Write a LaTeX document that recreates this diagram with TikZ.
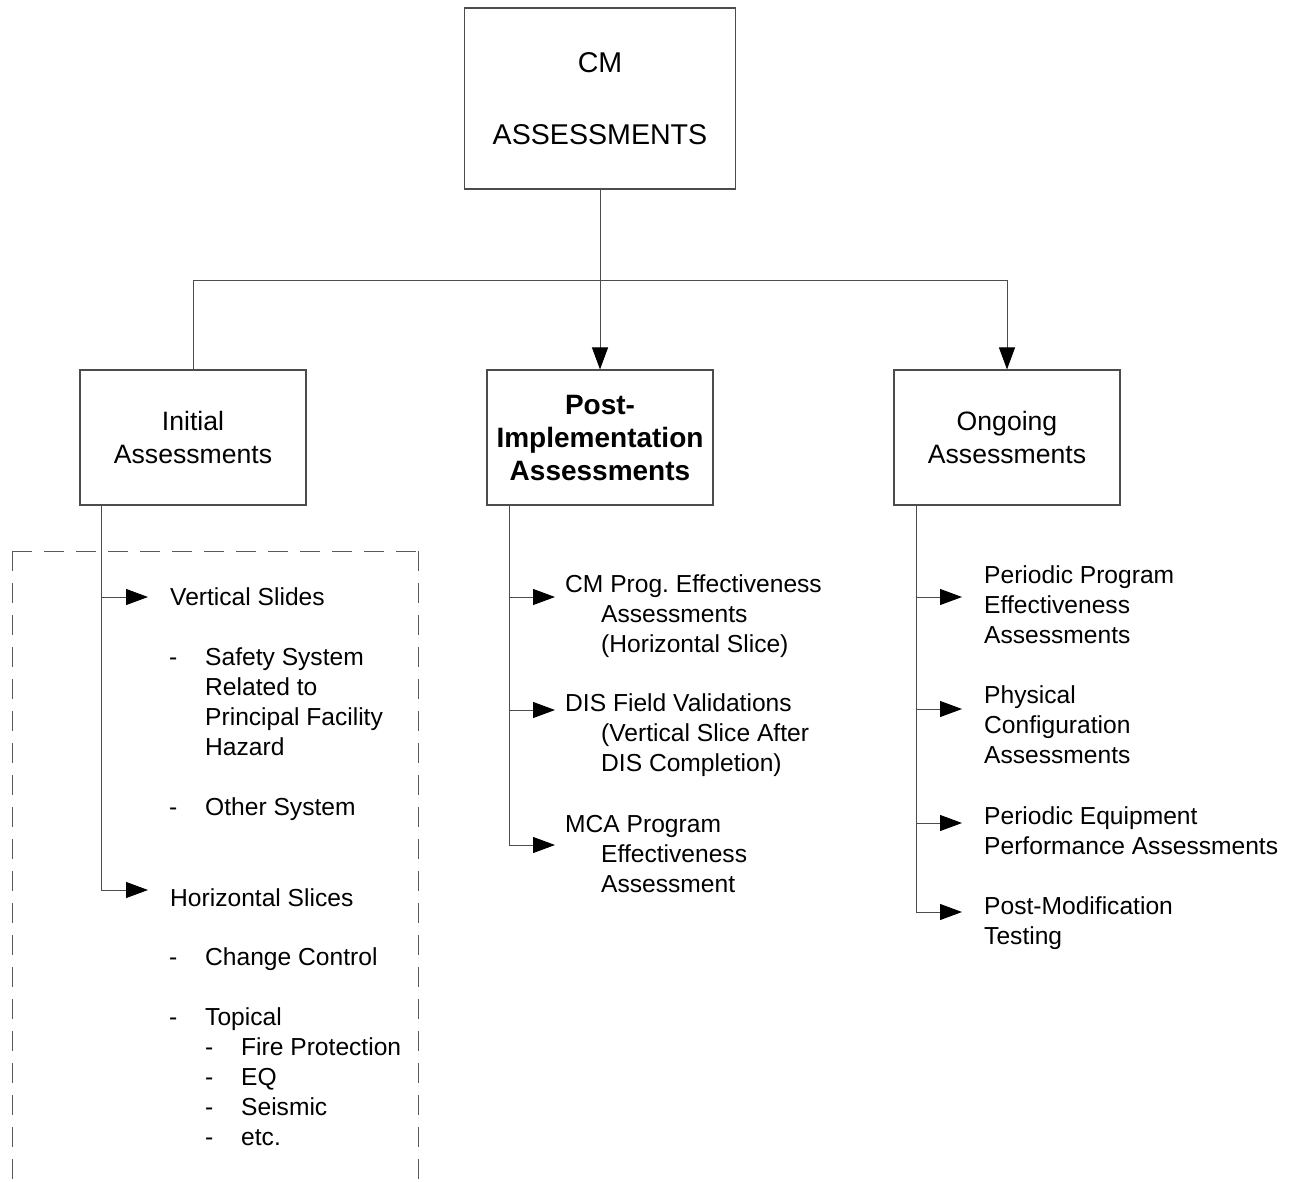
\documentclass[tikz,border=0pt]{standalone}
\usepackage{fontspec}
\setmainfont{Liberation Sans}
\usetikzlibrary{arrows.meta}
\frenchspacing

% stacked lines whose first baseline is the node baseline
\newcommand{\rows}[1]{\begin{tabular}[t]{@{}l@{}}#1\end{tabular}}
\newcommand{\dashitem}{\makebox[36pt][l]{-}}
\newcommand{\indentline}{\hspace*{36pt}}

\tikzset{
  box/.style={draw=black!70, line width=1.1pt, rectangle, inner sep=0pt,
    minimum width=226pt, minimum height=135pt, align=center,
    font=\fontsize{26.6}{33}\selectfont},
  topbox/.style={box, minimum width=271pt, minimum height=181pt,
    font=\fontsize{28.6}{34}\selectfont},
  item/.style={anchor=base west, inner sep=0pt,
    font=\fontsize{24.6}{30}\selectfont},
  link/.style={draw=black!70, line width=1pt},
  arr/.style={link, -{Triangle[length=22pt, width=16pt, color=black]}},
  frame/.style={draw=black!65, line width=1pt, dash pattern=on 20pt off 12pt},
}

\begin{document}
\begin{tikzpicture}[x=1pt, y=-1pt]
\useasboundingbox[fill=white] (0,0) rectangle (1293,1181);

% boxes
\node[topbox] (cm) at (600,98.5) {CM\\[38pt]ASSESSMENTS};
\node[box] (init) at (193,437.5) {Initial\\Assessments};
\node[box, font=\bfseries\fontsize{28}{33}\selectfont] (post) at (600,437.5)
  {Post-\\Implementation\\Assessments};
\node[box] (ongo) at (1007,437.5) {Ongoing\\Assessments};

% tree connectors
\coordinate (bar) at (0,280);
\draw[arr] (cm.south) -- (post.north);
\draw[arr] (init.north) |- (bar -| ongo.north) -- (ongo.north);

% dashed frame round the initial assessment list
\draw[frame] (12,551) -- (12,1200);
\draw[frame] (12,551) -- (418,551);
\draw[frame] (418,551) -- (418,1200);

% initial assessment list
\node[item] (vs) at (170,605.7) {Vertical Slides};
\node[item] (vsub) at (169,665.7) {\rows{\dashitem Safety System\\
  \indentline Related to\\
  \indentline Principal Facility\\
  \indentline Hazard\\[30pt]
  \dashitem Other System}};
\node[item] (hs) at (170,906.7) {Horizontal Slices};
\node[item] (hsub) at (169,965.7) {\rows{\dashitem Change Control\\[30pt]
  \dashitem Topical\\
  \indentline\dashitem Fire Protection\\
  \indentline\dashitem EQ\\
  \indentline\dashitem Seismic\\
  \indentline\dashitem etc.}};

% post-implementation list
\node[item] (p1) at (565,592) {\rows{CM Prog. Effectiveness\\
  \indentline Assessments\\
  \indentline (Horizontal Slice)}};
\node[item] (p2) at (565,711) {\rows{DIS Field Validations\\
  \indentline (Vertical Slice After\\
  \indentline DIS Completion)}};
\node[item] (p3) at (565,832) {\rows{MCA Program\\
  \indentline Effectiveness\\
  \indentline Assessment}};

% ongoing list
\node[item] (o1) at (984,583) {\rows{Periodic Program\\Effectiveness\\Assessments}};
\node[item] (o2) at (984,703) {\rows{Physical\\Configuration\\Assessments}};
\node[item] (o3) at (984,824) {\rows{Periodic Equipment\\Performance Assessments}};
\node[item] (o4) at (984,914) {\rows{Post-Modification\\Testing}};

% branch stems and arrows
\coordinate (is) at ([xshift=22pt]init.south west);
\coordinate (vsT) at (148,597);
\coordinate (hsT) at (148,890);
\draw[arr] (is) |- (hsT);
\draw[arr] (is |- vsT) -- (vsT);

\coordinate (ps) at ([xshift=23pt]post.south west);
\coordinate (p1T) at (555,597);
\coordinate (p2T) at (555,710);
\coordinate (p3T) at (555,845);
\draw[arr] (ps) |- (p3T);
\draw[arr] (ps |- p1T) -- (p1T);
\draw[arr] (ps |- p2T) -- (p2T);

\coordinate (os) at ([xshift=23pt]ongo.south west);
\coordinate (o1T) at (962,597);
\coordinate (o2T) at (962,709);
\coordinate (o3T) at (962,823);
\coordinate (o4T) at (962,912);
\draw[arr] (os) |- (o4T);
\draw[arr] (os |- o1T) -- (o1T);
\draw[arr] (os |- o2T) -- (o2T);
\draw[arr] (os |- o3T) -- (o3T);
\end{tikzpicture}
\end{document}
